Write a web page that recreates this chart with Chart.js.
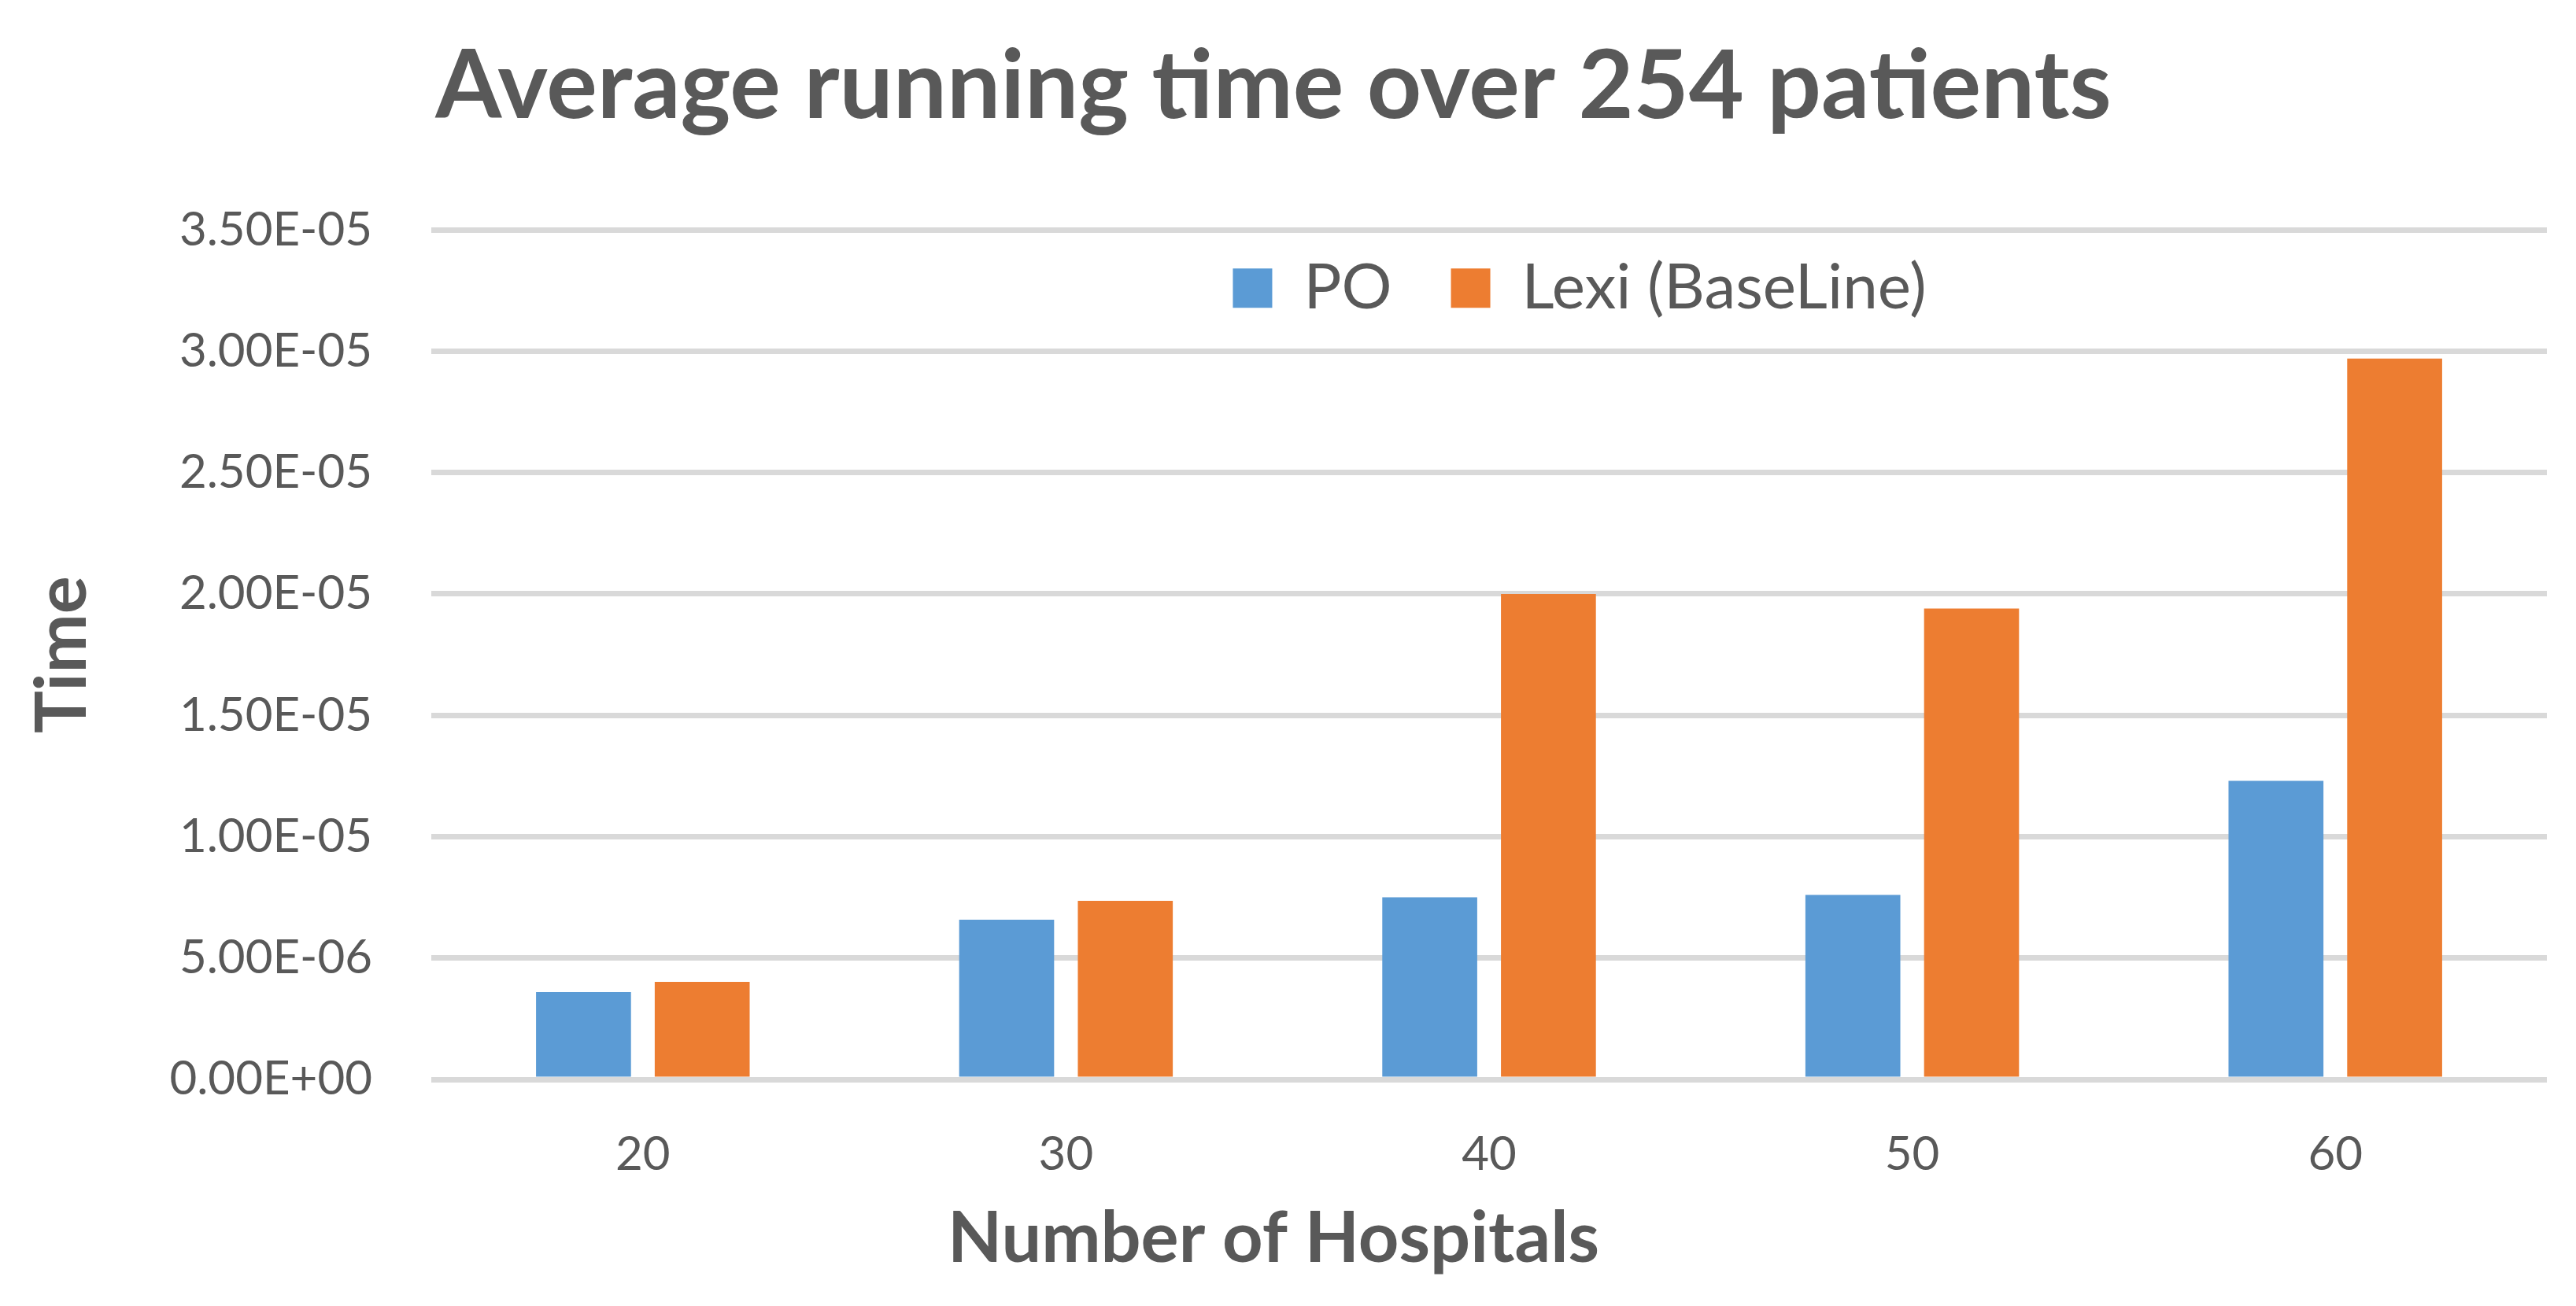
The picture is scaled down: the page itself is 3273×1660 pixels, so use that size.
<!DOCTYPE html>
<html>
<head>
<meta charset="utf-8">
<title>Average running time over 254 patients</title>
<script src="https://cdn.jsdelivr.net/npm/chart.js@4"></script>
<style>
  html, body { margin: 0; padding: 0; background: #ffffff; }
  #wrap { width: 3273px; height: 1660px; }
</style>
</head>
<body>
<div id="wrap"><canvas id="chart" width="3273" height="1660"></canvas></div>
<script>
// ---- data ----
const chartTitle = 'Average running time over 254 patients';
const xAxisTitle = 'Number of Hospitals';
const yAxisTitle = 'Time';
const categories = ['20', '30', '40', '50', '60'];
const seriesNames = ['PO', 'Lexi (BaseLine)'];
const poValues = [3.60e-6, 6.58e-6, 7.50e-6, 7.60e-6, 1.23e-5];
const lexiValues = [4.02e-6, 7.36e-6, 2.00e-5, 1.94e-5, 2.97e-5];
const yTickValues = [0, 5e-6, 1e-5, 1.5e-5, 2e-5, 2.5e-5, 3e-5, 3.5e-5];
const yTickLabels = ['0.00E+00', '5.00E-06', '1.00E-05', '1.50E-05', '2.00E-05', '2.50E-05', '3.00E-05', '3.50E-05'];

// ---- styling ----
const TEXT = '#595959';
const GRID = '#d9d9d9';
const BLUE = '#5b9bd5';
const ORANGE = '#ed7d31';

Chart.defaults.font.family = 'Lato';
Chart.defaults.color = TEXT;

// legend lives inside the plot area, laid out in one row, shifted right
const legendInPlot = {
  id: 'legendInPlot',
  beforeLayout(chart) {
    if (chart.legend) chart.legend.isHorizontal = () => true;
  },
  afterLayout(chart) {
    const lg = chart.legend;
    const ca = chart.chartArea;
    if (lg && ca) {
      lg.left = ca.left + 115;
      lg.right = ca.right + 115;
      lg.top = ca.top - 41;
    }
  }
};

new Chart(document.getElementById('chart'), {
  type: 'bar',
  data: {
    labels: categories,
    datasets: [
      { label: seriesNames[0], data: poValues, backgroundColor: BLUE, borderWidth: 0,
        categoryPercentage: 0.561, barPercentage: 0.80 },
      { label: seriesNames[1], data: lexiValues, backgroundColor: ORANGE, borderWidth: 0,
        categoryPercentage: 0.561, barPercentage: 0.80 }
    ]
  },
  options: {
    responsive: false,
    animation: false,
    devicePixelRatio: 1,
    layout: { padding: { left: 0, right: 37, top: 0, bottom: 0 } },
    plugins: {
      tooltip: { enabled: false },
      title: {
        display: true, text: chartTitle, color: TEXT,
        font: { family: 'Lato', size: 121, weight: 'bold', lineHeight: 1.2 },
        padding: { top: 38, bottom: 109 }
      },
      subtitle: {
        display: true, position: 'bottom', text: xAxisTitle, color: TEXT,
        font: { family: 'Lato', size: 90, weight: 'bold', lineHeight: 1.2 },
        padding: { top: 0, bottom: 31 }
      },
      legend: {
        display: true, position: 'chartArea', align: 'center',
        labels: {
          color: TEXT, boxWidth: 50, boxHeight: 50, padding: 75,
          font: { family: 'Lato', size: 80 }
        }
      }
    },
    scales: {
      x: {
        grid: { display: false, drawTicks: false },
        border: { display: false },
        ticks: { padding: 60, color: TEXT, font: { family: 'Lato', size: 60 } },
        afterFit(scale) { scale.height = 149; }
      },
      y: {
        min: 0, max: 3.5e-5,
        grid: { color: GRID, lineWidth: 7, drawTicks: false },
        border: { display: false },
        afterBuildTicks(scale) { scale.ticks = yTickValues.map(v => ({ value: v })); },
        ticks: {
          padding: 75, color: TEXT, font: { family: 'Lato', size: 60 },
          callback: (value, index) => yTickLabels[index]
        },
        title: {
          display: true, text: yAxisTitle, color: TEXT,
          font: { family: 'Lato', size: 90, weight: 'bold', lineHeight: 1.2 },
          padding: { top: 26, bottom: 0 }
        },
        afterFit(scale) { scale.width = 548; }
      }
    }
  },
  plugins: [legendInPlot]
});
</script>
</body>
</html>
